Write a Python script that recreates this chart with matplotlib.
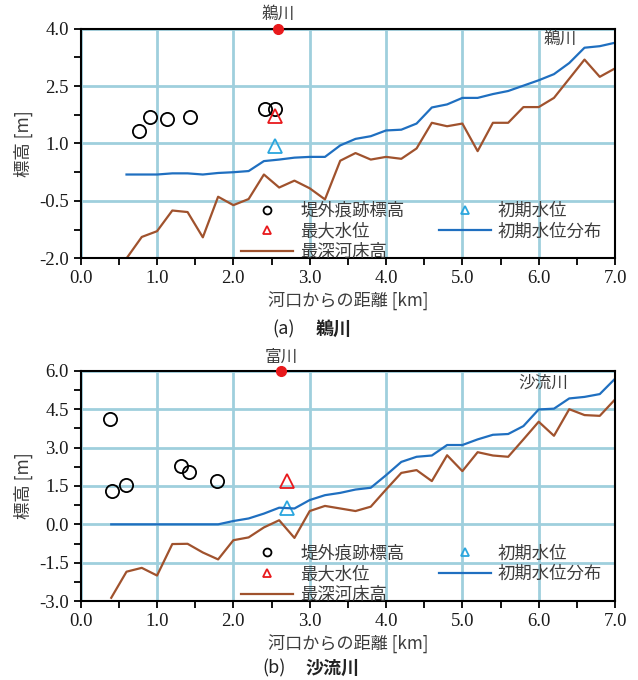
import numpy as np
import matplotlib
matplotlib.use("Agg")
import matplotlib.pyplot as plt
from matplotlib.ticker import MultipleLocator, FixedLocator, FormatStrFormatter

plt.rcParams['font.family'] = ['Noto Sans CJK JP', 'DejaVu Sans']

# ---- (a) 鵜川 ----
x_a = [0.6, 0.8, 1.0, 1.2, 1.4, 1.6, 1.8, 2.0, 2.2, 2.4, 2.6, 2.8, 3.0, 3.2, 3.4, 3.6,
       3.8, 4.0, 4.2, 4.4, 4.6, 4.8, 5.0, 5.2, 5.4, 5.6, 5.8, 6.0, 6.2, 6.4, 6.6, 6.8, 7.0]
bed_a = [-2.0, -1.44, -1.29, -0.75, -0.79, -1.45, -0.39, -0.61, -0.45, 0.19, -0.15, 0.03,
         -0.17, -0.46, 0.55, 0.75, 0.58, 0.65, 0.60, 0.87, 1.54, 1.45, 1.52, 0.80, 1.54,
         1.54, 1.95, 1.95, 2.19, 2.69, 3.19, 2.74, 2.96]
init_a = [0.19, 0.19, 0.19, 0.22, 0.22, 0.19, 0.23, 0.25, 0.28, 0.54, 0.58, 0.63, 0.65,
          0.65, 0.95, 1.12, 1.19, 1.34, 1.36, 1.52, 1.94, 2.02, 2.19, 2.19, 2.29, 2.37,
          2.51, 2.65, 2.81, 3.10, 3.50, 3.54, 3.63]
trace_x_a = [0.77, 0.91, 1.13, 1.43, 2.42, 2.54]
trace_y_a = [1.32, 1.69, 1.65, 1.69, 1.91, 1.89]
maxwl_a = (2.55, 1.72)
initwl_a = (2.55, 0.93)
station_a = (2.59, 4.0, "鵜川")
yticks_a = [-2.0, -0.5, 1.0, 2.5, 4.0]

# ---- (b) 沙流川 ----
x_b = [0.4, 0.6, 0.8, 1.0, 1.2, 1.4, 1.6, 1.8, 2.0, 2.2, 2.4, 2.6, 2.8, 3.0, 3.2, 3.4,
       3.6, 3.8, 4.0, 4.2, 4.4, 4.6, 4.8, 5.0, 5.2, 5.4, 5.6, 5.8, 6.0, 6.2, 6.4, 6.6, 6.8, 7.0]
bed_b = [-2.87, -1.85, -1.70, -2.00, -0.77, -0.76, -1.10, -1.37, -0.62, -0.51, -0.12, 0.16,
         -0.53, 0.52, 0.72, 0.62, 0.52, 0.69, 1.36, 2.01, 2.12, 1.69, 2.70, 2.08, 2.82,
         2.69, 2.64, 3.32, 4.01, 3.46, 4.50, 4.27, 4.24, 4.88]
init_b = [0.0, 0.0, 0.0, 0.0, 0.0, 0.0, 0.0, 0.0, 0.13, 0.23, 0.42, 0.65, 0.62, 0.95,
          1.14, 1.23, 1.36, 1.43, 1.92, 2.44, 2.64, 2.69, 3.10, 3.10, 3.32, 3.50, 3.53,
          3.84, 4.49, 4.52, 4.92, 4.98, 5.09, 5.69]
trace_x_b = [0.39, 0.41, 0.59, 1.32, 1.42, 1.79]
trace_y_b = [4.10, 1.30, 1.53, 2.27, 2.05, 1.70]
maxwl_b = (2.70, 1.70)
initwl_b = (2.70, 0.65)
station_b = (2.63, 6.0, "富川")
yticks_b = [-3.0, -1.5, 0.0, 1.5, 3.0, 4.5, 6.0]

GRID = "#9fcfdd"
BROWN = "#a0522d"
BLUE = "#1f6fc0"
CYAN = "#2aa6de"
RED = "#e8191c"
TXT = "#3c3c3c"


def draw(ax, x, bed, init, tx, ty, maxwl, initwl, station, yticks, river, river_pos):
    ax.plot(tx, ty, linestyle="none", marker="o", markersize=9.5, mfc="none",
            mec="black", mew=1.3, label="堤外痕跡標高")
    ax.plot(*maxwl, linestyle="none", marker="^", markersize=10, mfc="none",
            mec=RED, mew=1.3, label="最大水位")
    ax.plot(x, bed, color=BROWN, lw=1.6, label="最深河床高")
    ax.plot(*initwl, linestyle="none", marker="^", markersize=10, mfc="none",
            mec=CYAN, mew=1.3, label="初期水位")
    ax.plot(x, init, color=BLUE, lw=1.6, label="初期水位分布")
    ax.plot(station[0], station[1], "o", color=RED, markersize=7, clip_on=False, zorder=5)
    ax.annotate(station[2], (station[0], station[1]), xytext=(0, 10),
                textcoords="offset points", ha="center", va="center",
                fontsize=12, color=TXT, annotation_clip=False)
    ax.text(river_pos[0], river_pos[1], river, ha="right", va="center",
            fontsize=12, color=TXT, transform=ax.transAxes)

    ax.set_xlim(0, 7)
    ax.set_ylim(yticks[0], yticks[-1])
    ax.xaxis.set_major_locator(MultipleLocator(1.0))
    ax.xaxis.set_minor_locator(MultipleLocator(0.5))
    ax.yaxis.set_major_locator(FixedLocator(yticks))
    step = yticks[1] - yticks[0]
    ax.yaxis.set_minor_locator(FixedLocator(np.arange(yticks[0], yticks[-1] + 0.01, step / 2)))
    ax.xaxis.set_major_formatter(FormatStrFormatter("%.1f"))
    ax.yaxis.set_major_formatter(FormatStrFormatter("%.1f"))
    ax.grid(True, which="major", color=GRID, lw=2)
    ax.set_axisbelow(True)
    for s in ax.spines.values():
        s.set_color("black")
        s.set_linewidth(1.5)
    ax.tick_params(which="both", direction="out", length=5, width=1.3,
                   top=False, right=False)
    for lab in ax.get_xticklabels() + ax.get_yticklabels():
        lab.set_fontfamily(["Liberation Serif", "DejaVu Serif"])
        lab.set_fontsize(13.5)
        lab.set_color("#1a1a1a")
    ax.set_ylabel("標高 [m]", fontsize=12.5, color=TXT)
    ax.set_xlabel("河口からの距離 [km]", fontsize=12.3, color=TXT)
    ax.yaxis.set_label_coords(-0.108, 0.5)
    ax.yaxis.label.set_va("center")
    ax.xaxis.set_label_coords(0.5, -0.187)
    ax.xaxis.label.set_va("center")

    leg = ax.legend(loc="lower right", ncol=2, frameon=False, fontsize=12.5,
                    markerscale=0.6, handlelength=3.0, handletextpad=0.4,
                    columnspacing=2.0, labelspacing=0.16, borderaxespad=0.0,
                    borderpad=0.0, bbox_to_anchor=(0.976, -0.012))
    for t in leg.get_texts():
        t.set_color(TXT)


fig = plt.figure(figsize=(6.38, 6.80), dpi=100)
ax1 = fig.add_axes([0.1265, 0.620, 0.8375, 0.338])
ax2 = fig.add_axes([0.1265, 0.116, 0.8375, 0.3387])

draw(ax1, x_a, bed_a, init_a, trace_x_a, trace_y_a, maxwl_a, initwl_a, station_a,
     yticks_a, "鵜川", (0.929, 0.953))
draw(ax2, x_b, bed_b, init_b, trace_x_b, trace_y_b, maxwl_b, initwl_b, station_b,
     yticks_b, "沙流川", (0.912, 0.945))

fig.text(272 / 638, 1 - 329 / 680, "(a)", ha="left", va="center", fontsize=13, color="#222222")
fig.text(316 / 638, 1 - 329 / 680, "鵜川", ha="left", va="center", fontsize=13,
         fontweight="bold", color="#222222")
fig.text(262 / 638, 1 - 668 / 680, "(b)", ha="left", va="center", fontsize=13, color="#222222")
fig.text(305 / 638, 1 - 668 / 680, "沙流川", ha="left", va="center", fontsize=13,
         fontweight="bold", color="#222222")

fig.savefig("out.png", dpi=100)
